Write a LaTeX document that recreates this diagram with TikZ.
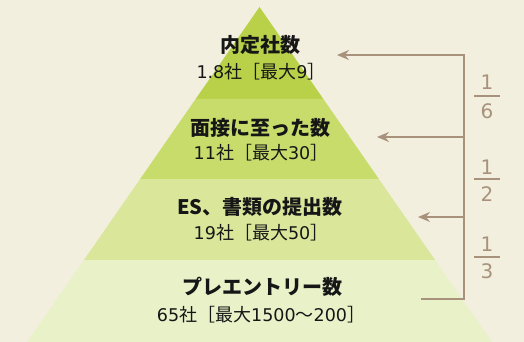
\documentclass[tikz,border=0pt]{standalone}
\usepackage{fontspec}
\newfontfamily\jp{Noto Sans CJK JP}[BoldFont={Noto Sans CJK JP Black}]
\newfontfamily\digitfont{DejaVu Sans}
\usetikzlibrary{arrows.meta}
\definecolor{bg}{HTML}{F3EFDE}
\definecolor{lone}{HTML}{B8D148}
\definecolor{ltwo}{HTML}{C8DC6C}
\definecolor{lthree}{HTML}{DAE79B}
\definecolor{lfour}{HTML}{E9F1C8}
\definecolor{ink}{HTML}{161616}
\definecolor{arr}{HTML}{A8927C}
\begin{document}
\begin{tikzpicture}[x=1pt,y=-1pt,
  title/.style={font=\jp\bfseries\fontsize{20}{24}\selectfont, text=ink, inner sep=0pt},
  sub/.style={font=\jp\fontsize{18}{20}\selectfont, text=ink, inner sep=0pt},
  ptr/.style={draw=arr, line width=1.5pt, -{Stealth[length=12pt,width=10pt,inset=4pt]}},
  fracnum/.style={font=\digitfont\fontsize{20}{24}\selectfont, text=arr, inner sep=0pt},
  fracbar/.style={draw=arr, line width=1.2pt}]
\fill[bg] (0,0) rectangle (524,342);
\useasboundingbox (0,0) rectangle (524,342);
% pyramid layers
\fill[lone] (259.5,7) -- (323.35,99) -- (195.65,99) -- cycle;
\fill[ltwo] (195.65,99) -- (323.35,99) -- (378.87,179) -- (140.13,179) -- cycle;
\fill[lthree] (140.13,179) -- (378.87,179) -- (435.08,260) -- (83.92,260) -- cycle;
\fill[lfour] (83.92,260) -- (435.08,260) -- (492,342) -- (27,342) -- cycle;
% texts
\node[title] (t1) at (260,45) {内定社数};
\node[sub] (s1) at (261,72) {{\digitfont\fontsize{17.5}{20}\selectfont 1.8}社［最大{\digitfont\fontsize{17.5}{20}\selectfont 9}］};
\node[title] (t2) at (260,128) {面接に至った数};
\node[sub] (s2) at (261,153) {{\digitfont\fontsize{17.5}{20}\selectfont 11}社［最大{\digitfont\fontsize{17.5}{20}\selectfont 30}］};
\node[title] (t3) at (260,207) {ES、書類の提出数};
\node[sub] (s3) at (261,233) {{\digitfont\fontsize{17.5}{20}\selectfont 19}社［最大{\digitfont\fontsize{17.5}{20}\selectfont 50}］};
\node[title] (t4) at (262,287) {プレエントリー数};
\node[sub] (s4) at (261,315) {{\digitfont\fontsize{17.5}{20}\selectfont 65}社［最大{\digitfont\fontsize{17.5}{20}\selectfont 1500}〜{\digitfont\fontsize{17.5}{20}\selectfont 200}］};
% connectors
\coordinate (v1) at (464,55);
\coordinate (v2) at (464,137);
\coordinate (v3) at (464,217);
\coordinate (v4) at (464,299);
\coordinate (a1) at (337,55);
\coordinate (a2) at (377,137);
\coordinate (a3) at (418,217);
\coordinate (b4) at (421,299);
\draw[ptr] (b4) -- (v4) -- (v1) -- (a1);
\draw[ptr] (v2) -- (a2);
\draw[ptr] (v3) -- (a3);
% fractions
\node[fracnum] (n1) at (487,82) {1};
\node[fracnum] (d1) at (487,111) {6};
\node[fracnum] (n2) at (487,167) {1};
\node[fracnum] (d2) at (487,194) {2};
\node[fracnum] (n3) at (487,244) {1};
\node[fracnum] (d3) at (487,271) {3};
\coordinate (fa1) at (474,96); \coordinate (fb1) at (500,96);
\coordinate (fa2) at (474,179); \coordinate (fb2) at (500,179);
\coordinate (fa3) at (474,257); \coordinate (fb3) at (500,257);
\draw[fracbar] (fa1) -- (fb1);
\draw[fracbar] (fa2) -- (fb2);
\draw[fracbar] (fa3) -- (fb3);
\end{tikzpicture}
\end{document}
